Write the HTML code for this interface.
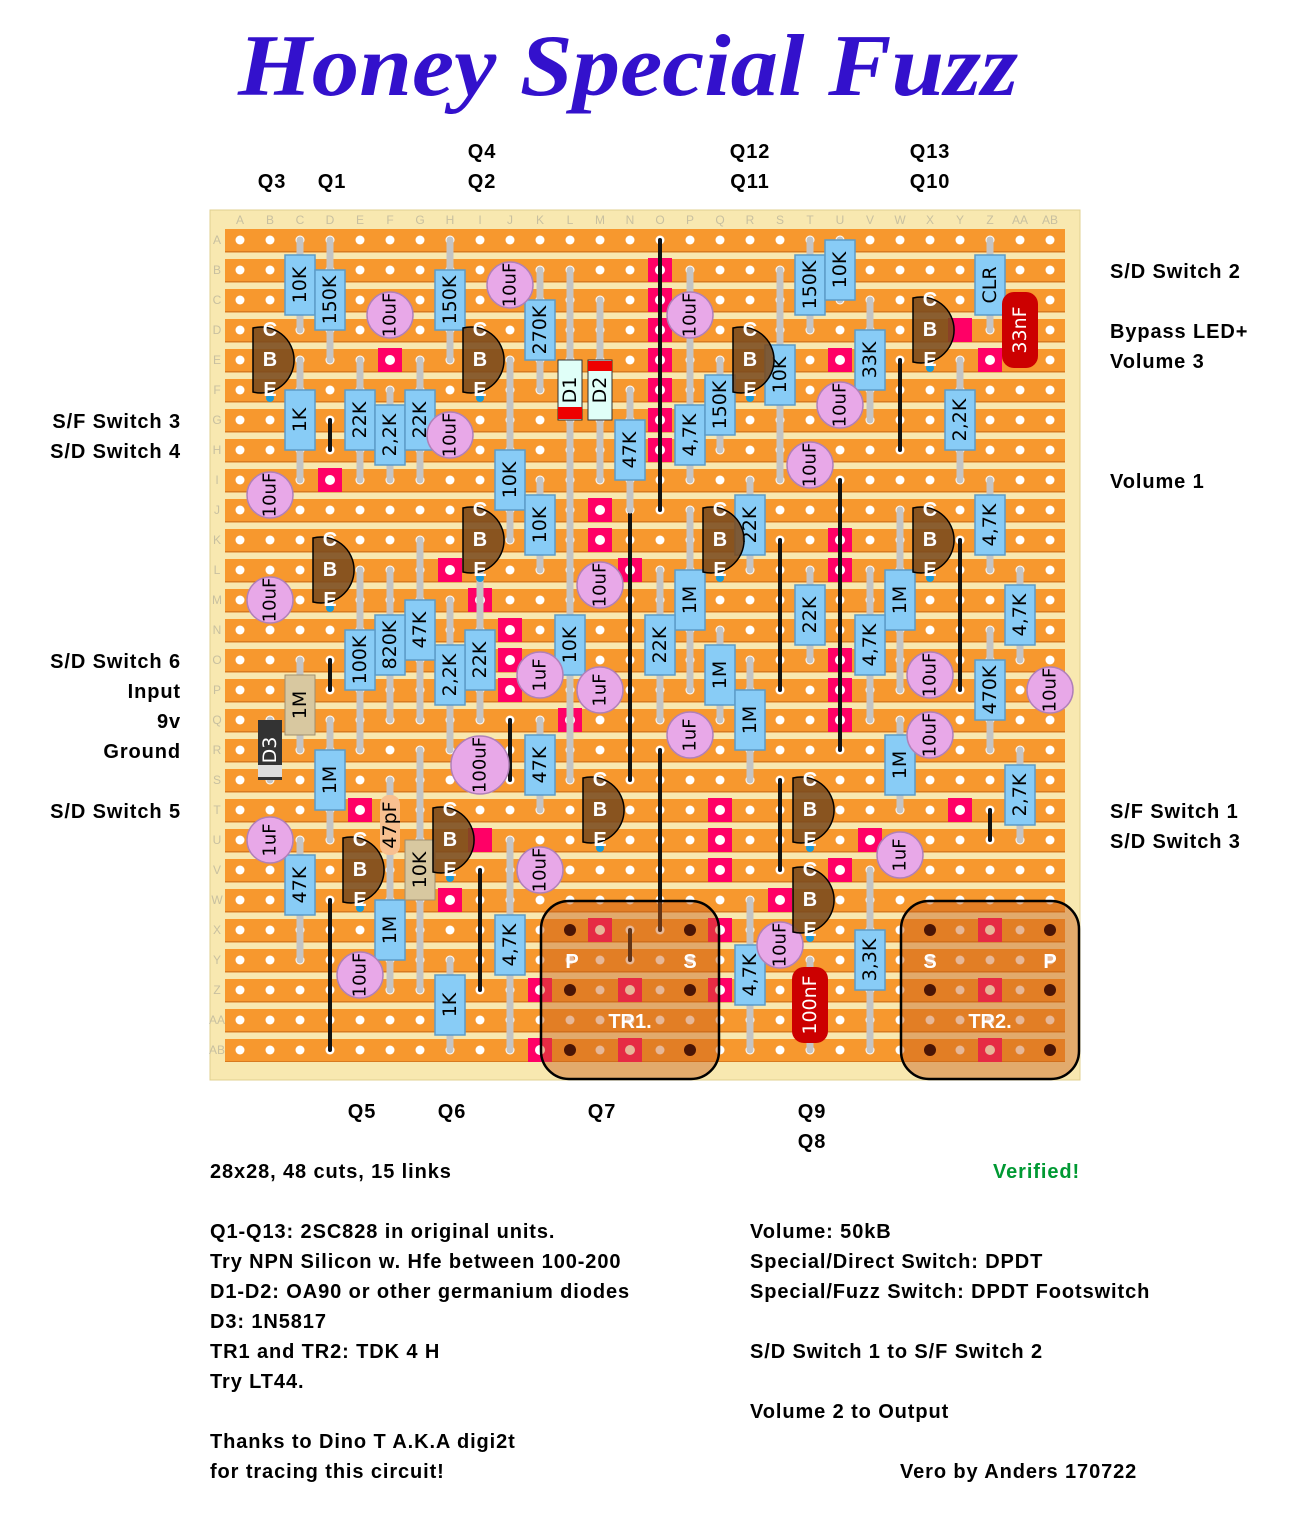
<!DOCTYPE html>
<html><head><meta charset="utf-8"><style>
body{margin:0;background:#fff}
svg{display:block}
.t{font-family:"Liberation Sans",sans-serif;font-weight:bold;font-size:20px;fill:#000;letter-spacing:0.9px}
.r{font-family:"DejaVu Sans","Liberation Sans",sans-serif;font-size:19px;fill:#000;text-anchor:middle;dominant-baseline:central}
.c{font-family:"DejaVu Sans","Liberation Sans",sans-serif;font-size:18px;fill:#000;text-anchor:middle;dominant-baseline:central}
.q{font-family:"Liberation Sans",sans-serif;font-weight:bold;font-size:20px;fill:#fff;text-anchor:middle;dominant-baseline:central}
.gl{font-family:"Liberation Sans",sans-serif;font-size:12px;fill:#c8c0a0;text-anchor:middle;dominant-baseline:central}
</style></head><body>
<svg width="1296" height="1534" viewBox="0 0 1296 1534" xmlns="http://www.w3.org/2000/svg">
<defs>
<pattern id="strip" x="0" y="229" width="30" height="30" patternUnits="userSpaceOnUse">
<rect x="0" y="0" width="30" height="23" fill="#f7982e"/>
<rect x="0" y="22" width="30" height="1.5" fill="#d87a20"/>
</pattern>
<pattern id="holes" x="225" y="225" width="30" height="30" patternUnits="userSpaceOnUse">
<circle cx="15" cy="15" r="4.5" fill="#fff"/>
</pattern>
</defs>
<text x="628" y="95" text-anchor="middle" textLength="780" lengthAdjust="spacingAndGlyphs" style="font-family:'Liberation Serif',serif;font-style:italic;font-weight:bold;font-size:88px;fill:#3311cc">Honey Special Fuzz</text>

<rect x="210" y="210" width="870" height="870" fill="#f8e8b0" stroke="#e0d090"/>
<rect x="225" y="229" width="840" height="833" fill="url(#strip)"/>
<rect x="225" y="225" width="840" height="840" fill="url(#holes)"/>
<g class="gl">
<text x="240" y="220">A</text><text x="270" y="220">B</text><text x="300" y="220">C</text><text x="330" y="220">D</text><text x="360" y="220">E</text><text x="390" y="220">F</text><text x="420" y="220">G</text><text x="450" y="220">H</text><text x="480" y="220">I</text><text x="510" y="220">J</text><text x="540" y="220">K</text><text x="570" y="220">L</text><text x="600" y="220">M</text><text x="630" y="220">N</text><text x="660" y="220">O</text><text x="690" y="220">P</text><text x="720" y="220">Q</text><text x="750" y="220">R</text><text x="780" y="220">S</text><text x="810" y="220">T</text><text x="840" y="220">U</text><text x="870" y="220">V</text><text x="900" y="220">W</text><text x="930" y="220">X</text><text x="960" y="220">Y</text><text x="990" y="220">Z</text><text x="1020" y="220">AA</text><text x="1050" y="220">AB</text>
<text x="217" y="240">A</text><text x="217" y="270">B</text><text x="217" y="300">C</text><text x="217" y="330">D</text><text x="217" y="360">E</text><text x="217" y="390">F</text><text x="217" y="420">G</text><text x="217" y="450">H</text><text x="217" y="480">I</text><text x="217" y="510">J</text><text x="217" y="540">K</text><text x="217" y="570">L</text><text x="217" y="600">M</text><text x="217" y="630">N</text><text x="217" y="660">O</text><text x="217" y="690">P</text><text x="217" y="720">Q</text><text x="217" y="750">R</text><text x="217" y="780">S</text><text x="217" y="810">T</text><text x="217" y="840">U</text><text x="217" y="870">V</text><text x="217" y="900">W</text><text x="217" y="930">X</text><text x="217" y="960">Y</text><text x="217" y="990">Z</text><text x="217" y="1020">AA</text><text x="217" y="1050">AB</text>
</g>

<!-- cuts -->
<g fill="#ff0066">
<rect x="378" y="348" width="24" height="24"/>
<rect x="648" y="258" width="24" height="24"/><rect x="648" y="288" width="24" height="24"/><rect x="648" y="318" width="24" height="24"/><rect x="648" y="348" width="24" height="24"/><rect x="648" y="378" width="24" height="24"/><rect x="648" y="408" width="24" height="24"/><rect x="648" y="438" width="24" height="24"/>
<rect x="318" y="468" width="24" height="24"/>
<rect x="588" y="498" width="24" height="24"/><rect x="588" y="528" width="24" height="24"/><rect x="618" y="558" width="24" height="24"/>
<rect x="438" y="558" width="24" height="24"/><rect x="468" y="588" width="24" height="24"/>
<rect x="498" y="618" width="24" height="24"/><rect x="498" y="648" width="24" height="24"/><rect x="498" y="678" width="24" height="24"/>
<rect x="558" y="708" width="24" height="24"/><rect x="288" y="708" width="24" height="24"/>
<rect x="828" y="348" width="24" height="24"/><rect x="948" y="318" width="24" height="24"/><rect x="978" y="348" width="24" height="24"/>
<rect x="828" y="528" width="24" height="24"/><rect x="828" y="558" width="24" height="24"/>
<rect x="828" y="648" width="24" height="24"/><rect x="828" y="678" width="24" height="24"/><rect x="828" y="708" width="24" height="24"/>
<rect x="348" y="798" width="24" height="24"/><rect x="948" y="798" width="24" height="24"/><rect x="468" y="828" width="24" height="24"/>
<rect x="708" y="798" width="24" height="24"/><rect x="708" y="828" width="24" height="24"/><rect x="708" y="858" width="24" height="24"/>
<rect x="858" y="828" width="24" height="24"/><rect x="828" y="858" width="24" height="24"/>
<rect x="438" y="888" width="24" height="24"/><rect x="768" y="888" width="24" height="24"/>
<rect x="588" y="918" width="24" height="24"/><rect x="708" y="918" width="24" height="24"/>
<rect x="528" y="978" width="24" height="24"/><rect x="618" y="978" width="24" height="24"/><rect x="708" y="978" width="24" height="24"/>
<rect x="528" y="1038" width="24" height="24"/><rect x="618" y="1038" width="24" height="24"/>
<rect x="978" y="918" width="24" height="24"/><rect x="978" y="978" width="24" height="24"/><rect x="978" y="1038" width="24" height="24"/>
</g>
<g fill="#fff">
<circle cx="390" cy="360" r="5"/><circle cx="660" cy="270" r="5"/><circle cx="660" cy="300" r="5"/><circle cx="660" cy="330" r="5"/><circle cx="660" cy="360" r="5"/><circle cx="660" cy="390" r="5"/><circle cx="660" cy="420" r="5"/><circle cx="660" cy="450" r="5"/><circle cx="330" cy="480" r="5"/><circle cx="600" cy="510" r="5"/><circle cx="600" cy="540" r="5"/><circle cx="630" cy="570" r="5"/><circle cx="450" cy="570" r="5"/><circle cx="480" cy="600" r="5"/><circle cx="510" cy="630" r="5"/><circle cx="510" cy="660" r="5"/><circle cx="510" cy="690" r="5"/><circle cx="570" cy="720" r="5"/><circle cx="840" cy="360" r="5"/><circle cx="990" cy="360" r="5"/><circle cx="840" cy="540" r="5"/><circle cx="840" cy="570" r="5"/><circle cx="840" cy="660" r="5"/><circle cx="840" cy="690" r="5"/><circle cx="840" cy="720" r="5"/><circle cx="360" cy="810" r="5"/><circle cx="960" cy="810" r="5"/><circle cx="720" cy="810" r="5"/><circle cx="720" cy="840" r="5"/><circle cx="720" cy="870" r="5"/><circle cx="870" cy="840" r="5"/><circle cx="840" cy="870" r="5"/><circle cx="450" cy="900" r="5"/><circle cx="780" cy="900" r="5"/><circle cx="600" cy="930" r="5"/><circle cx="720" cy="930" r="5"/><circle cx="540" cy="990" r="5"/><circle cx="630" cy="990" r="5"/><circle cx="720" cy="990" r="5"/><circle cx="540" cy="1050" r="5"/><circle cx="630" cy="1050" r="5"/><circle cx="990" cy="930" r="5"/><circle cx="990" cy="990" r="5"/><circle cx="990" cy="1050" r="5"/>
</g>

<!-- links -->
<g stroke="#111" stroke-width="4" stroke-linecap="round">
<line x1="330" y1="420" x2="330" y2="450"/><line x1="660" y1="240" x2="660" y2="510"/><line x1="330" y1="660" x2="330" y2="690"/>
<line x1="630" y1="510" x2="630" y2="780"/><line x1="660" y1="750" x2="660" y2="930"/><line x1="840" y1="480" x2="840" y2="750"/>
<line x1="780" y1="540" x2="780" y2="690"/><line x1="900" y1="360" x2="900" y2="450"/><line x1="960" y1="540" x2="960" y2="690"/>
<line x1="510" y1="720" x2="510" y2="780"/><line x1="480" y1="870" x2="480" y2="990"/><line x1="330" y1="900" x2="330" y2="1050"/>
<line x1="780" y1="780" x2="780" y2="870"/><line x1="990" y1="810" x2="990" y2="840"/><line x1="630" y1="930" x2="630" y2="960"/>
</g>

<!-- leads -->
<g stroke="#c4c4c4" stroke-width="7" stroke-linecap="round">
<line x1="300" y1="240" x2="300" y2="330"/><line x1="330" y1="240" x2="330" y2="360"/><line x1="450" y1="240" x2="450" y2="360"/>
<line x1="300" y1="360" x2="300" y2="480"/><line x1="360" y1="360" x2="360" y2="480"/><line x1="390" y1="390" x2="390" y2="480"/><line x1="420" y1="360" x2="420" y2="480"/>
<line x1="540" y1="270" x2="540" y2="390"/><line x1="570" y1="270" x2="570" y2="510"/><line x1="600" y1="300" x2="600" y2="480"/>
<line x1="630" y1="390" x2="630" y2="510"/><line x1="690" y1="270" x2="690" y2="480"/><line x1="720" y1="360" x2="720" y2="450"/>
<line x1="780" y1="270" x2="780" y2="480"/><line x1="810" y1="240" x2="810" y2="330"/><line x1="840" y1="240" x2="840" y2="300"/>
<line x1="870" y1="300" x2="870" y2="420"/><line x1="990" y1="240" x2="990" y2="330"/><line x1="960" y1="360" x2="960" y2="480"/>
<line x1="510" y1="360" x2="510" y2="540"/><line x1="540" y1="480" x2="540" y2="570"/><line x1="750" y1="480" x2="750" y2="570"/><line x1="990" y1="480" x2="990" y2="570"/>
<line x1="1020" y1="570" x2="1020" y2="660"/><line x1="690" y1="510" x2="690" y2="690"/><line x1="900" y1="510" x2="900" y2="690"/>
<line x1="810" y1="570" x2="810" y2="660"/><line x1="870" y1="570" x2="870" y2="720"/><line x1="660" y1="570" x2="660" y2="720"/>
<line x1="570" y1="510" x2="570" y2="780"/><line x1="480" y1="570" x2="480" y2="720"/><line x1="450" y1="600" x2="450" y2="750"/>
<line x1="420" y1="540" x2="420" y2="720"/><line x1="390" y1="570" x2="390" y2="720"/><line x1="360" y1="570" x2="360" y2="750"/>
<line x1="720" y1="630" x2="720" y2="720"/><line x1="750" y1="660" x2="750" y2="780"/><line x1="990" y1="630" x2="990" y2="750"/>
<line x1="300" y1="660" x2="300" y2="750"/><line x1="330" y1="720" x2="330" y2="840"/><line x1="540" y1="720" x2="540" y2="810"/>
<line x1="900" y1="720" x2="900" y2="810"/><line x1="1020" y1="750" x2="1020" y2="840"/><line x1="390" y1="780" x2="390" y2="870"/>
<line x1="420" y1="750" x2="420" y2="990"/><line x1="300" y1="840" x2="300" y2="960"/><line x1="390" y1="870" x2="390" y2="990"/>
<line x1="510" y1="840" x2="510" y2="1050"/><line x1="450" y1="960" x2="450" y2="1050"/><line x1="750" y1="900" x2="750" y2="1050"/>
<line x1="810" y1="960" x2="810" y2="1050"/><line x1="870" y1="870" x2="870" y2="1050"/><line x1="270" y1="720" x2="270" y2="780"/>
</g>

<!-- transformers -->
<rect x="541" y="901" width="178" height="178" rx="28" fill="#c8601a" fill-opacity="0.45" stroke="#000" stroke-width="2.5"/>
<rect x="901" y="901" width="178" height="178" rx="28" fill="#c8601a" fill-opacity="0.45" stroke="#000" stroke-width="2.5"/>
<g fill="#4a1505">
<circle cx="570" cy="930" r="6"/><circle cx="690" cy="930" r="6"/><circle cx="570" cy="990" r="6"/><circle cx="690" cy="990" r="6"/><circle cx="570" cy="1050" r="6"/><circle cx="690" cy="1050" r="6"/>
<circle cx="930" cy="930" r="6"/><circle cx="1050" cy="930" r="6"/><circle cx="930" cy="990" r="6"/><circle cx="1050" cy="990" r="6"/><circle cx="930" cy="1050" r="6"/><circle cx="1050" cy="1050" r="6"/>
</g>
<g class="q"><text x="572" y="962">P</text><text x="690" y="962">S</text><text x="630" y="1022">TR1.</text><text x="930" y="962">S</text><text x="1050" y="962">P</text><text x="990" y="1022">TR2.</text></g>

<!-- resistors -->
<g fill="#88ccf6" stroke="#5c9cc8" stroke-width="1.5">
<rect x="285" y="255" width="30" height="60"/><rect x="315" y="270" width="30" height="60"/><rect x="435" y="270" width="30" height="60"/>
<rect x="285" y="390" width="30" height="60"/><rect x="345" y="390" width="30" height="60"/><rect x="375" y="405" width="30" height="60"/><rect x="405" y="390" width="30" height="60"/>
<rect x="525" y="300" width="30" height="60"/><rect x="615" y="420" width="30" height="60"/><rect x="675" y="405" width="30" height="60"/><rect x="705" y="375" width="30" height="60"/>
<rect x="765" y="345" width="30" height="60"/><rect x="795" y="255" width="30" height="60"/><rect x="825" y="240" width="30" height="60"/><rect x="855" y="330" width="30" height="60"/>
<rect x="975" y="255" width="30" height="60"/><rect x="945" y="390" width="30" height="60"/>
<rect x="495" y="450" width="30" height="60"/><rect x="525" y="495" width="30" height="60"/><rect x="735" y="495" width="30" height="60"/><rect x="975" y="495" width="30" height="60"/>
<rect x="1005" y="585" width="30" height="60"/><rect x="675" y="570" width="30" height="60"/><rect x="885" y="570" width="30" height="60"/><rect x="795" y="585" width="30" height="60"/>
<rect x="855" y="615" width="30" height="60"/><rect x="645" y="615" width="30" height="60"/><rect x="555" y="615" width="30" height="60"/><rect x="465" y="630" width="30" height="60"/>
<rect x="435" y="645" width="30" height="60"/><rect x="405" y="600" width="30" height="60"/><rect x="375" y="615" width="30" height="60"/><rect x="345" y="630" width="30" height="60"/>
<rect x="705" y="645" width="30" height="60"/><rect x="735" y="690" width="30" height="60"/><rect x="975" y="660" width="30" height="60"/>
<rect x="315" y="750" width="30" height="60"/><rect x="525" y="735" width="30" height="60"/><rect x="885" y="735" width="30" height="60"/><rect x="1005" y="765" width="30" height="60"/>
<rect x="285" y="855" width="30" height="60"/><rect x="375" y="900" width="30" height="60"/><rect x="495" y="915" width="30" height="60"/><rect x="435" y="975" width="30" height="60"/>
<rect x="735" y="945" width="30" height="60"/><rect x="855" y="930" width="30" height="60"/>
</g>
<rect x="285" y="675" width="30" height="60" fill="#d8c8a0" stroke="#a09070"/>
<rect x="405" y="840" width="30" height="60" fill="#d8c8a0" stroke="#a09070"/>
<rect x="380" y="795" width="20" height="60" rx="9" fill="#f8c090"/>
<rect x="258" y="720" width="24" height="60" fill="#333"/><rect x="258" y="765" width="24" height="12" fill="#ddd"/>
<rect x="558" y="360" width="24" height="60" fill="#e0fff8" stroke="#333"/><rect x="558" y="407" width="24" height="12" fill="#e00"/>
<rect x="588" y="360" width="24" height="60" fill="#e0fff8" stroke="#333"/><rect x="588" y="361" width="24" height="10" fill="#e00"/>
<rect x="1002" y="292" width="36" height="76" rx="12" fill="#cc0000"/>
<rect x="792" y="967" width="36" height="76" rx="12" fill="#cc0000"/>
<g class="r">
<text transform="rotate(-90 300 285)" x="300" y="285">10K</text><text transform="rotate(-90 330 300)" x="330" y="300">150K</text><text transform="rotate(-90 450 300)" x="450" y="300">150K</text>
<text transform="rotate(-90 300 420)" x="300" y="420">1K</text><text transform="rotate(-90 360 420)" x="360" y="420">22K</text><text transform="rotate(-90 390 435)" x="390" y="435">2,2K</text><text transform="rotate(-90 420 420)" x="420" y="420">22K</text>
<text transform="rotate(-90 540 330)" x="540" y="330">270K</text><text transform="rotate(-90 630 450)" x="630" y="450">47K</text><text transform="rotate(-90 690 435)" x="690" y="435">4,7K</text><text transform="rotate(-90 720 405)" x="720" y="405">150K</text>
<text transform="rotate(-90 780 375)" x="780" y="375">10K</text><text transform="rotate(-90 810 285)" x="810" y="285">150K</text><text transform="rotate(-90 840 270)" x="840" y="270">10K</text><text transform="rotate(-90 870 360)" x="870" y="360">33K</text>
<text transform="rotate(-90 990 285)" x="990" y="285">CLR</text><text transform="rotate(-90 960 420)" x="960" y="420">2,2K</text>
<text transform="rotate(-90 510 480)" x="510" y="480">10K</text><text transform="rotate(-90 540 525)" x="540" y="525">10K</text><text transform="rotate(-90 750 525)" x="750" y="525">22K</text><text transform="rotate(-90 990 525)" x="990" y="525">4,7K</text>
<text transform="rotate(-90 1020 615)" x="1020" y="615">4,7K</text><text transform="rotate(-90 690 600)" x="690" y="600">1M</text><text transform="rotate(-90 900 600)" x="900" y="600">1M</text><text transform="rotate(-90 810 615)" x="810" y="615">22K</text>
<text transform="rotate(-90 870 645)" x="870" y="645">4,7K</text><text transform="rotate(-90 660 645)" x="660" y="645">22K</text><text transform="rotate(-90 570 645)" x="570" y="645">10K</text><text transform="rotate(-90 480 660)" x="480" y="660">22K</text>
<text transform="rotate(-90 450 675)" x="450" y="675">2,2K</text><text transform="rotate(-90 420 630)" x="420" y="630">47K</text><text transform="rotate(-90 390 645)" x="390" y="645">820K</text><text transform="rotate(-90 360 660)" x="360" y="660">100K</text>
<text transform="rotate(-90 720 675)" x="720" y="675">1M</text><text transform="rotate(-90 750 720)" x="750" y="720">1M</text><text transform="rotate(-90 990 690)" x="990" y="690">470K</text>
<text transform="rotate(-90 300 705)" x="300" y="705">1M</text><text transform="rotate(-90 330 780)" x="330" y="780">1M</text><text transform="rotate(-90 540 765)" x="540" y="765">47K</text><text transform="rotate(-90 900 765)" x="900" y="765">1M</text>
<text transform="rotate(-90 1020 795)" x="1020" y="795">2,7K</text><text transform="rotate(-90 390 825)" x="390" y="825">47pF</text><text transform="rotate(-90 420 870)" x="420" y="870">10K</text>
<text transform="rotate(-90 300 885)" x="300" y="885">47K</text><text transform="rotate(-90 390 930)" x="390" y="930">1M</text><text transform="rotate(-90 510 945)" x="510" y="945">4,7K</text><text transform="rotate(-90 450 1005)" x="450" y="1005">1K</text>
<text transform="rotate(-90 750 975)" x="750" y="975">4,7K</text><text transform="rotate(-90 870 960)" x="870" y="960">3,3K</text>
<text transform="rotate(-90 570 390)" x="570" y="390">D1</text><text transform="rotate(-90 600 390)" x="600" y="390">D2</text>
<text transform="rotate(-90 270 750)" x="270" y="750" style="fill:#fff">D3</text>
<text transform="rotate(-90 1020 330)" x="1020" y="330" style="fill:#fff">33nF</text><text transform="rotate(-90 810 1005)" x="810" y="1005" style="fill:#fff">100nF</text>
</g>

<!-- capacitors -->
<g fill="#e8a8e8" stroke="#b080b8" stroke-width="1.5">
<circle cx="390" cy="315" r="23"/><circle cx="510" cy="285" r="23"/><circle cx="690" cy="315" r="23"/><circle cx="450" cy="435" r="23"/>
<circle cx="840" cy="405" r="23"/><circle cx="810" cy="465" r="23"/><circle cx="270" cy="495" r="23"/><circle cx="270" cy="600" r="23"/>
<circle cx="600" cy="585" r="23"/><circle cx="540" cy="675" r="23"/><circle cx="600" cy="690" r="23"/><circle cx="930" cy="675" r="23"/>
<circle cx="1050" cy="690" r="23"/><circle cx="690" cy="735" r="23"/><circle cx="930" cy="735" r="23"/><circle cx="480" cy="765" r="29"/>
<circle cx="270" cy="840" r="23"/><circle cx="540" cy="870" r="23"/><circle cx="900" cy="855" r="23"/><circle cx="780" cy="945" r="23"/><circle cx="360" cy="975" r="23"/>
</g>
<g class="c">
<text transform="rotate(-90 390 315)" x="390" y="315">10uF</text><text transform="rotate(-90 510 285)" x="510" y="285">10uF</text><text transform="rotate(-90 690 315)" x="690" y="315">10uF</text><text transform="rotate(-90 450 435)" x="450" y="435">10uF</text>
<text transform="rotate(-90 840 405)" x="840" y="405">10uF</text><text transform="rotate(-90 810 465)" x="810" y="465">10uF</text><text transform="rotate(-90 270 495)" x="270" y="495">10uF</text><text transform="rotate(-90 270 600)" x="270" y="600">10uF</text>
<text transform="rotate(-90 600 585)" x="600" y="585">10uF</text><text transform="rotate(-90 540 675)" x="540" y="675">1uF</text><text transform="rotate(-90 600 690)" x="600" y="690">1uF</text><text transform="rotate(-90 930 675)" x="930" y="675">10uF</text>
<text transform="rotate(-90 1050 690)" x="1050" y="690">10uF</text><text transform="rotate(-90 690 735)" x="690" y="735">1uF</text><text transform="rotate(-90 930 735)" x="930" y="735">10uF</text><text transform="rotate(-90 480 765)" x="480" y="765">100uF</text>
<text transform="rotate(-90 270 840)" x="270" y="840">1uF</text><text transform="rotate(-90 540 870)" x="540" y="870">10uF</text><text transform="rotate(-90 900 855)" x="900" y="855">1uF</text><text transform="rotate(-90 780 945)" x="780" y="945">10uF</text><text transform="rotate(-90 360 975)" x="360" y="975">10uF</text>
</g>

<!-- transistors -->
<g fill="#7a4a1e" fill-opacity="0.88" stroke="#000" stroke-width="1.5">
<path d="M253 328 A33 33 0 1 1 253 392 Z"/><path d="M463 328 A33 33 0 1 1 463 392 Z"/><path d="M733 328 A33 33 0 1 1 733 392 Z"/><path d="M913 298 A33 33 0 1 1 913 362 Z"/>
<path d="M313 538 A33 33 0 1 1 313 602 Z"/><path d="M463 508 A33 33 0 1 1 463 572 Z"/><path d="M703 508 A33 33 0 1 1 703 572 Z"/><path d="M913 508 A33 33 0 1 1 913 572 Z"/>
<path d="M343 838 A33 33 0 1 1 343 902 Z"/><path d="M433 808 A33 33 0 1 1 433 872 Z"/><path d="M583 778 A33 33 0 1 1 583 842 Z"/><path d="M793 778 A33 33 0 1 1 793 842 Z"/><path d="M793 868 A33 33 0 1 1 793 932 Z"/>
</g>
<g fill="#1a9ad8">
<circle cx="270" cy="398" r="4"/><circle cx="480" cy="398" r="4"/><circle cx="750" cy="398" r="4"/><circle cx="930" cy="368" r="4"/><circle cx="330" cy="608" r="4"/><circle cx="480" cy="578" r="4"/><circle cx="720" cy="578" r="4"/><circle cx="930" cy="578" r="4"/><circle cx="360" cy="908" r="4"/><circle cx="450" cy="878" r="4"/><circle cx="600" cy="848" r="4"/><circle cx="810" cy="848" r="4"/><circle cx="810" cy="938" r="4"/>
</g>
<g class="q">
<text x="270" y="330">C</text><text x="270" y="360">B</text><text x="270" y="390">E</text>
<text x="480" y="330">C</text><text x="480" y="360">B</text><text x="480" y="390">E</text>
<text x="750" y="330">C</text><text x="750" y="360">B</text><text x="750" y="390">E</text>
<text x="930" y="300">C</text><text x="930" y="330">B</text><text x="930" y="360">E</text>
<text x="330" y="540">C</text><text x="330" y="570">B</text><text x="330" y="600">E</text>
<text x="480" y="510">C</text><text x="480" y="540">B</text><text x="480" y="570">E</text>
<text x="720" y="510">C</text><text x="720" y="540">B</text><text x="720" y="570">E</text>
<text x="930" y="510">C</text><text x="930" y="540">B</text><text x="930" y="570">E</text>
<text x="360" y="840">C</text><text x="360" y="870">B</text><text x="360" y="900">E</text>
<text x="450" y="810">C</text><text x="450" y="840">B</text><text x="450" y="870">E</text>
<text x="600" y="780">C</text><text x="600" y="810">B</text><text x="600" y="840">E</text>
<text x="810" y="780">C</text><text x="810" y="810">B</text><text x="810" y="840">E</text>
<text x="810" y="870">C</text><text x="810" y="900">B</text><text x="810" y="930">E</text>
</g>

<!-- labels -->
<g class="t" text-anchor="middle">
<text x="272" y="188">Q3</text><text x="332" y="188">Q1</text><text x="482" y="158">Q4</text><text x="482" y="188">Q2</text>
<text x="750" y="158">Q12</text><text x="750" y="188">Q11</text><text x="930" y="158">Q13</text><text x="930" y="188">Q10</text>
<text x="362" y="1118">Q5</text><text x="452" y="1118">Q6</text><text x="602" y="1118">Q7</text><text x="812" y="1118">Q9</text><text x="812" y="1148">Q8</text>
</g>
<g class="t" text-anchor="end">
<text x="181" y="428">S/F Switch 3</text><text x="181" y="458">S/D Switch 4</text>
<text x="181" y="668">S/D Switch 6</text><text x="181" y="698">Input</text><text x="181" y="728">9v</text><text x="181" y="758">Ground</text>
<text x="181" y="818">S/D Switch 5</text>
</g>
<g class="t">
<text x="1110" y="278">S/D Switch 2</text><text x="1110" y="338">Bypass LED+</text><text x="1110" y="368">Volume 3</text><text x="1110" y="488">Volume 1</text>
<text x="1110" y="818">S/F Switch 1</text><text x="1110" y="848">S/D Switch 3</text>
<text x="210" y="1178">28x28, 48 cuts, 15 links</text>
<text x="993" y="1178" style="fill:#009933">Verified!</text>
<text x="210" y="1238">Q1-Q13: 2SC828 in original units.</text>
<text x="210" y="1268">Try NPN Silicon w. Hfe between 100-200</text>
<text x="210" y="1298">D1-D2: OA90 or other germanium diodes</text>
<text x="210" y="1328">D3: 1N5817</text>
<text x="210" y="1358">TR1 and TR2: TDK 4 H</text>
<text x="210" y="1388">Try LT44.</text>
<text x="210" y="1448">Thanks to Dino T A.K.A digi2t</text>
<text x="210" y="1478">for tracing this circuit!</text>
<text x="750" y="1238">Volume: 50kB</text>
<text x="750" y="1268">Special/Direct Switch: DPDT</text>
<text x="750" y="1298">Special/Fuzz Switch: DPDT Footswitch</text>
<text x="750" y="1358">S/D Switch 1 to S/F Switch 2</text>
<text x="750" y="1418">Volume 2 to Output</text>
<text x="900" y="1478">Vero by Anders 170722</text>
</g>
</svg>
</body></html>
